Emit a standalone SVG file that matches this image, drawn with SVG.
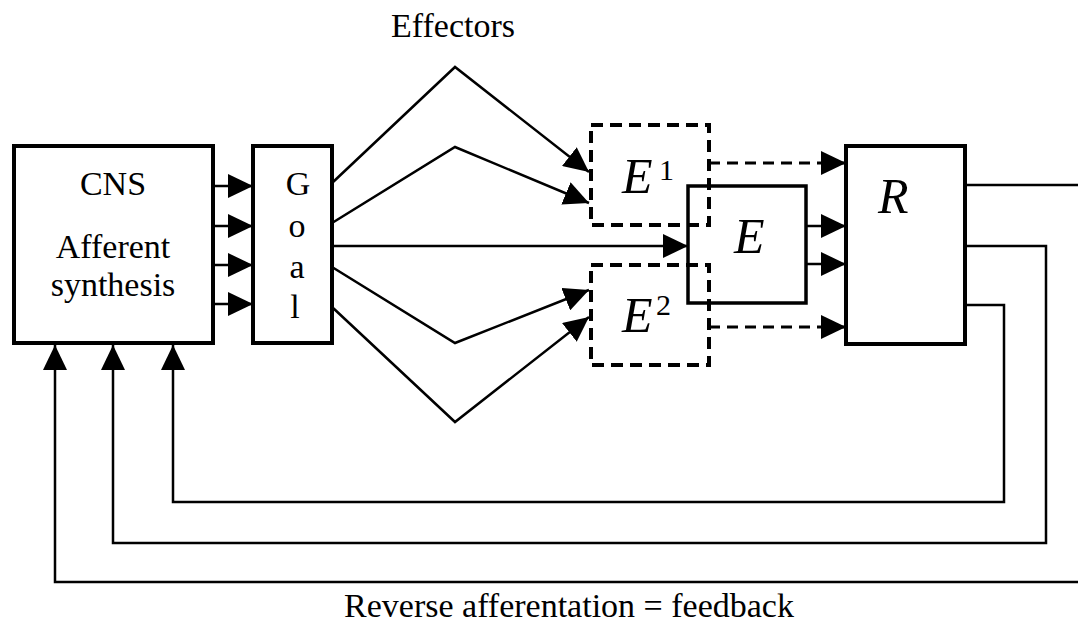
<svg xmlns="http://www.w3.org/2000/svg" width="1078" height="635" viewBox="0 0 1078 635">
<defs>
<marker id="ah" markerUnits="userSpaceOnUse" markerWidth="26" markerHeight="24" refX="25" refY="12" orient="auto" viewBox="0 0 26 24">
<path d="M0,0 L25,12 L0,24 z" fill="#000"/>
</marker>
</defs>
<style>
.box{fill:#fff;stroke:#000;stroke-width:4}
.dbox{fill:none;stroke:#000;stroke-width:4;stroke-dasharray:12 7}
.ln{fill:none;stroke:#000;stroke-width:2.5}
.dl{fill:none;stroke:#000;stroke-width:3;stroke-dasharray:11 7}
.t{font-family:"Liberation Serif","Times New Roman",serif;font-size:34px;fill:#000}
.it{font-family:"Liberation Serif","Times New Roman",serif;font-style:italic;font-size:50px;fill:#000}
.sup{font-family:"Liberation Serif","Times New Roman",serif;font-size:30px;fill:#000}
</style>
<rect width="1078" height="635" fill="#fff"/>
<text class="t" x="453" y="37" text-anchor="middle">Effectors</text>
<text class="t" x="569" y="617" text-anchor="middle">Reverse afferentation = feedback</text>
<g id="connectors">
<line class="ln" x1="213" y1="186" x2="253" y2="186" marker-end="url(#ah)"/>
<line class="ln" x1="213" y1="226" x2="253" y2="226" marker-end="url(#ah)"/>
<line class="ln" x1="213" y1="265" x2="253" y2="265" marker-end="url(#ah)"/>
<line class="ln" x1="213" y1="304" x2="253" y2="304" marker-end="url(#ah)"/>
<polyline class="ln" points="332,183 455,67 589,172" marker-end="url(#ah)"/>
<polyline class="ln" points="332,223 455,147 589,203" marker-end="url(#ah)"/>
<line class="ln" x1="332" y1="246" x2="688" y2="246" marker-end="url(#ah)"/>
<polyline class="ln" points="332,267 455,343 589,290" marker-end="url(#ah)"/>
<polyline class="ln" points="332,307 455,422 589,317" marker-end="url(#ah)"/>
<line class="dl" x1="709" y1="163" x2="846" y2="163" marker-end="url(#ah)"/>
<line class="dl" x1="709" y1="327" x2="846" y2="327" marker-end="url(#ah)"/>
<line class="ln" x1="806" y1="226" x2="846" y2="226" marker-end="url(#ah)"/>
<line class="ln" x1="806" y1="264" x2="846" y2="264" marker-end="url(#ah)"/>
<polyline class="ln" points="965,305 1004,305 1004,502 173,502 173,345" marker-end="url(#ah)"/>
<polyline class="ln" points="965,246 1046,246 1046,543 113,543 113,345" marker-end="url(#ah)"/>
<polyline class="ln" points="965,185 1084,185 1084,582 55,582 55,345" marker-end="url(#ah)"/>
</g>
<g id="cns">
<rect class="box" x="14" y="146" width="199" height="197"/>
<text class="t" x="113" y="195" text-anchor="middle">CNS</text>
<text class="t" x="113" y="258" text-anchor="middle">Afferent</text>
<text class="t" x="113" y="296" text-anchor="middle">synthesis</text>
</g>
<g id="goal">
<rect class="box" x="253" y="146" width="79" height="197"/>
<text class="t" x="298" y="195" text-anchor="middle">G</text>
<text class="t" x="297" y="237" text-anchor="middle">o</text>
<text class="t" x="297" y="278" text-anchor="middle">a</text>
<text class="t" x="295" y="318" text-anchor="middle">l</text>
</g>
<g id="e">
<rect class="box" x="688" y="186" width="118" height="117" style="stroke-width:3.5"/>
<text class="it" x="734" y="253">E</text>
</g>
<g id="e1">
<rect class="dbox" x="591" y="125" width="118" height="100"/>
<text class="it" x="622" y="193">E</text>
<text class="sup" x="659" y="180">1</text>
</g>
<g id="e2">
<rect class="dbox" x="591" y="265" width="118" height="100"/>
<text class="it" x="622" y="332">E</text>
<text class="sup" x="656" y="315">2</text>
</g>
<g id="r">
<rect class="box" x="846" y="146" width="119" height="198"/>
<text class="it" x="878" y="213">R</text>
</g>
</svg>
